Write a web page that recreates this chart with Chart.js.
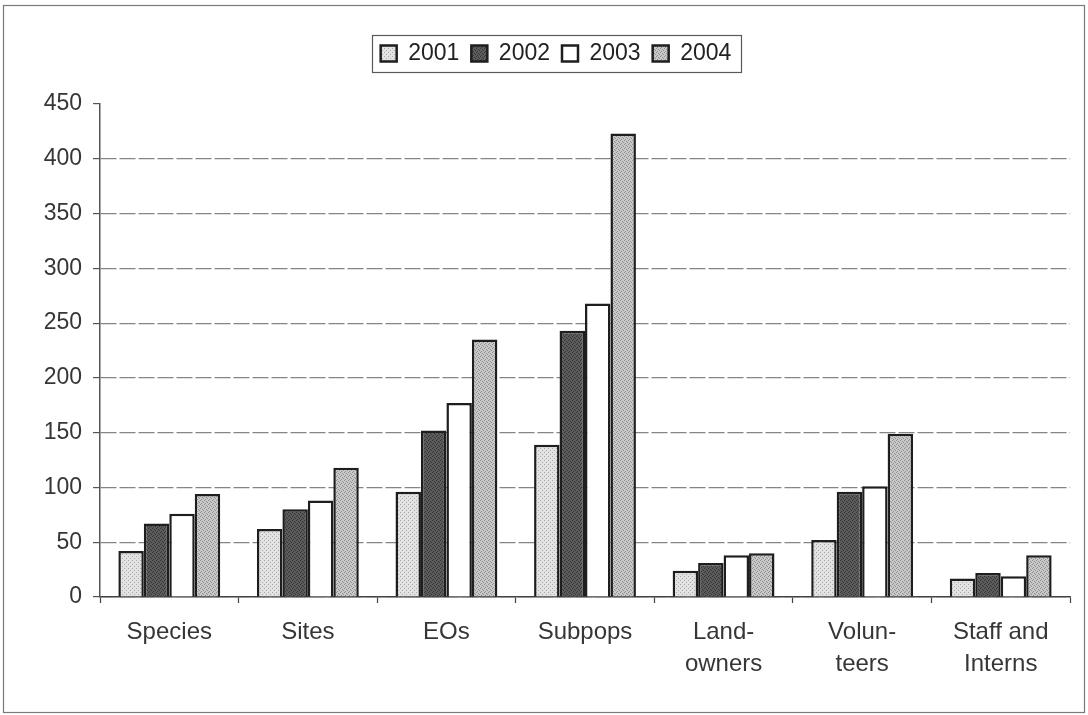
<!DOCTYPE html>
<html>
<head>
<meta charset="utf-8">
<script src="https://cdn.jsdelivr.net/npm/chart.js@4/dist/chart.umd.min.js"></script>
<style>
  html, body { margin: 0; padding: 0; background: #ffffff; }
  #wrap { width: 1088px; height: 715px; position: relative; }
</style>
</head>
<body>
<div id="wrap"><canvas id="chart" width="1088" height="715"></canvas></div>
<script>
// Activity counts per category, 2001-2004
const categories = ['Species', 'Sites', 'EOs', 'Subpops', ['Land-', 'owners'], ['Volun-', 'teers'], ['Staff and', 'Interns']];
const years = ['2001', '2002', '2003', '2004'];
const values2001 = [42, 62, 96, 139, 24, 52, 17];
const values2002 = [67, 80, 152, 243, 31, 96, 22];
const values2003 = [76, 88, 177, 268, 38, 101, 19];
const values2004 = [94, 118, 235, 423, 40, 149, 38];
const yTicks = [0, 50, 100, 150, 200, 250, 300, 350, 400, 450];

const FONT = '"Liberation Sans", Arial, sans-serif';
const TEXT = '#363636';

// small stippled fills in the style of spreadsheet pattern fills
function stipple(bg, dot, spots) {
  const c = document.createElement('canvas');
  c.width = 4; c.height = 4;
  const g = c.getContext('2d');
  g.fillStyle = bg; g.fillRect(0, 0, 4, 4);
  g.fillStyle = dot;
  spots.forEach(([x, y]) => g.fillRect(x, y, 1, 1));
  return g.createPattern(c, 'repeat');
}
const fill2001 = stipple('#e2e2e2', '#a8a8a8', [[0, 0], [2, 2]]);
const fill2002 = stipple('#5c5c5c', '#363636', [[0, 0], [2, 1], [1, 3], [3, 2]]);
const fill2003 = '#ffffff';
const fill2004 = stipple('#c8c8c8', '#8e8e8e', [[0, 0], [2, 1], [1, 3], [3, 2]]);

const seriesValues = [values2001, values2002, values2003, values2004];
const seriesFills = [fill2001, fill2002, fill2003, fill2004];

const datasets = years.map((y, i) => ({
  label: y,
  data: seriesValues[i],
  backgroundColor: seriesFills[i],
  borderColor: '#1e1e1e',
  borderWidth: 2.5,
  borderSkipped: 'start',
  categoryPercentage: 0.735,
  barPercentage: 1.0
}));

// outer frame and the box around the legend
const framePlugin = {
  id: 'frames',
  afterInit(chart) {
    const lg = chart.legend;
    const baseFit = lg.fit;
    lg.fit = function () { baseFit.call(this); this.height += 29; };
  },
  beforeDraw(chart) {
    const ctx = chart.ctx;
    ctx.save();
    ctx.fillStyle = '#ffffff';
    ctx.fillRect(0, 0, chart.width, chart.height);
    ctx.strokeStyle = '#7a7a7a';
    ctx.lineWidth = 1.2;
    ctx.strokeRect(3.5, 5.5, 1081, 707);
    ctx.restore();
  },
  afterDraw(chart) {
    const boxes = chart.legend.legendHitBoxes;
    if (!boxes || !boxes.length) return;
    const first = boxes[0], last = boxes[boxes.length - 1];
    const x1 = first.left - 9, x2 = last.left + last.width + 9;
    const y1 = first.top - 7, y2 = first.top + first.height + 7;
    const ctx = chart.ctx;
    ctx.save();
    ctx.strokeStyle = '#5a5a5a';
    ctx.lineWidth = 1.2;
    ctx.strokeRect(Math.round(x1) + 0.5, Math.round(y1) + 0.5, Math.round(x2 - x1), Math.round(y2 - y1));
    ctx.restore();
  }
};

new Chart(document.getElementById('chart'), {
  type: 'bar',
  data: { labels: categories, datasets },
  options: {
    responsive: false,
    animation: false,
    devicePixelRatio: 1,
    layout: { padding: { top: 30, left: 42, right: 18, bottom: 0 } },
    plugins: {
      legend: {
        position: 'top',
        labels: {
          boxWidth: 16,
          boxHeight: 16,
          padding: 12,
          color: '#222222',
          font: { family: FONT, size: 23 }
        }
      },
      tooltip: { enabled: false }
    },
    scales: {
      x: {
        offset: true,
        grid: {
          display: true,
          offset: true,
          drawOnChartArea: false,
          drawTicks: true,
          tickLength: 6,
          tickColor: '#444444',
          tickWidth: 1.2
        },
        border: { display: true, color: '#444444', width: 1.5 },
        ticks: {
          color: TEXT,
          padding: 13,
          maxRotation: 0,
          autoSkip: false,
          font: { family: FONT, size: 24, lineHeight: 1.35 }
        },
        afterFit(scale) { scale.height = 118; }
      },
      y: {
        min: yTicks[0],
        max: yTicks[yTicks.length - 1],
        afterBuildTicks(scale) { scale.ticks = yTicks.map(v => ({ value: v })); },
        grid: {
          color: ctx => (ctx.tick && ctx.tick.value === yTicks[yTicks.length - 1]) ? 'rgba(0,0,0,0)' : '#858585',
          lineWidth: 1.2,
          drawTicks: true,
          tickLength: 7,
          tickColor: '#555555',
          tickWidth: 1.2,
          tickBorderDash: []
        },
        border: { display: true, color: '#555555', width: 1.5, dash: [16, 3] },
        ticks: {
          color: TEXT,
          padding: 11,
          font: { family: FONT, size: 23 }
        },
        afterFit(scale) { scale.width = 58; }
      }
    }
  },
  plugins: [framePlugin]
});
</script>
</body>
</html>
